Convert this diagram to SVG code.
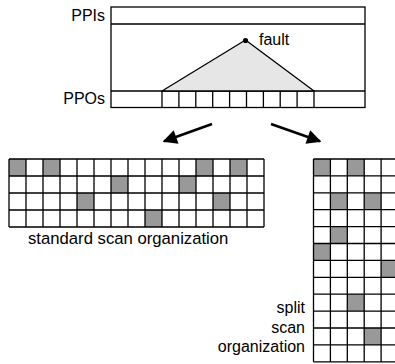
<svg xmlns="http://www.w3.org/2000/svg" width="395" height="364" viewBox="0 0 395 364">
  <style>
    .lbl { font-family: "Liberation Sans", Arial, sans-serif; font-size: 16px; fill: #000; }
    .end { text-anchor: end; }
    .box { fill: #fff; stroke: #000; stroke-width: 1.3; }
    .ln { fill: none; stroke: #000; stroke-width: 1.3; }
    .hit { fill: #999; stroke: none; }
    .cone { fill: #e6e6e6; stroke: #000; stroke-width: 1.3; stroke-linejoin: round; }
    .arrow { stroke: #000; stroke-width: 2.6; fill: none; marker-end: url(#head); }
  </style>
  <defs>
    <marker id="head" viewBox="0 0 10 10" refX="9" refY="5" markerWidth="6" markerHeight="5.5" orient="auto" markerUnits="strokeWidth">
      <path d="M0,0 L10,5 L0,10 z" fill="#000"/>
    </marker>
  </defs>
  <rect width="395" height="364" fill="#fff"/>

  <!-- circuit under test: PPIs on top, PPOs at bottom, fault cone -->
  <g id="circuit">
    <rect class="box" x="111" y="7" width="254" height="100.5"/>
    <path class="ln" d="M111,24 H365 M111,91 H365"/>
    <polygon class="cone" points="162,91 245.5,40 314,91"/>
    <path class="ln" d="M162,91 V107.5 M178.9,91 V107.5 M195.8,91 V107.5 M212.7,91 V107.5 M229.6,91 V107.5 M246.5,91 V107.5 M263.4,91 V107.5 M280.2,91 V107.5 M297.1,91 V107.5 M314,91 V107.5"/>
    <circle cx="245.5" cy="40.5" r="2.6" fill="#000"/>
    <text class="lbl" x="259" y="45">fault</text>
    <text class="lbl end" x="105" y="20.5">PPIs</text>
    <text class="lbl end" x="105" y="103.5">PPOs</text>
  </g>

  <!-- connectors -->
  <g id="connectors">
    <line class="arrow" x1="212" y1="124" x2="164" y2="141.3"/>
    <line class="arrow" x1="271" y1="124" x2="320" y2="141.3"/>
  </g>

  <!-- standard scan organization: 4 chains x 15 cells -->
  <g id="standard-scan">
    <rect class="hit" x="9" y="159" width="17" height="17"/>
    <rect class="hit" x="43" y="159" width="17" height="17"/>
    <rect class="hit" x="196" y="159" width="17" height="17"/>
    <rect class="hit" x="230" y="159" width="17" height="17"/>
    <rect class="hit" x="111" y="176" width="17" height="17"/>
    <rect class="hit" x="179" y="176" width="17" height="17"/>
    <rect class="hit" x="77" y="193" width="17" height="17"/>
    <rect class="hit" x="213" y="193" width="17" height="17"/>
    <rect class="hit" x="145" y="210" width="17" height="17"/>
    <path class="ln" d="M9,159 H264 M9,176 H264 M9,193 H264 M9,210 H264 M9,227 H264
      M9,159 V227 M26,159 V227 M43,159 V227 M60,159 V227 M77,159 V227 M94,159 V227
      M111,159 V227 M128,159 V227 M145,159 V227 M162,159 V227 M179,159 V227
      M196,159 V227 M213,159 V227 M230,159 V227 M247,159 V227 M264,159 V227"/>
    <text class="lbl" x="28" y="243.5" style="font-size:16.7px">standard scan organization</text>
  </g>

  <!-- split scan organization: 12 cells deep, chains continue past the edge -->
  <g id="split-scan">
    <rect class="hit" x="313.5" y="159" width="16.9" height="16.9"/>
    <rect class="hit" x="347.3" y="159" width="16.9" height="16.9"/>
    <rect class="hit" x="330.4" y="192.8" width="16.9" height="16.9"/>
    <rect class="hit" x="364.2" y="192.8" width="16.9" height="16.9"/>
    <rect class="hit" x="330.4" y="226.6" width="16.9" height="16.9"/>
    <rect class="hit" x="313.5" y="243.5" width="16.9" height="16.9"/>
    <rect class="hit" x="381.1" y="260.4" width="16.9" height="16.9"/>
    <rect class="hit" x="347.3" y="294.2" width="16.9" height="16.9"/>
    <rect class="hit" x="364.2" y="328" width="16.9" height="16.9"/>
    <path class="ln" d="M313.5,159 H400 M313.5,175.9 H400 M313.5,192.8 H400 M313.5,209.7 H400
      M313.5,226.6 H400 M313.5,243.5 H400 M313.5,260.4 H400 M313.5,277.3 H400
      M313.5,294.2 H400 M313.5,311.1 H400 M313.5,328 H400 M313.5,344.9 H400 M313.5,361.8 H400
      M313.5,159 V361.8 M330.4,159 V361.8 M347.3,159 V361.8 M364.2,159 V361.8 M381.1,159 V361.8"/>
    <text class="lbl end" x="305" y="312.5">split</text>
    <text class="lbl end" x="305" y="333">scan</text>
    <text class="lbl end" x="305" y="352">organization</text>
  </g>
</svg>
